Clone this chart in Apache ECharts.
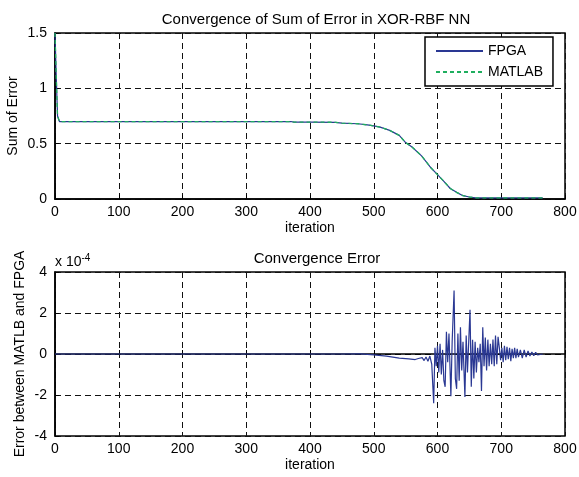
<!DOCTYPE html>
<html>
<head>
<meta charset="utf-8">
<script src="https://cdn.jsdelivr.net/npm/echarts@6/dist/echarts.min.js"></script>
<style>
html,body{margin:0;padding:0;background:#fff;}
#c{width:579px;height:477px;}
</style>
</head>
<body>
<div id="c"></div>
<script>
// ---- data ----
var xTicks = [0, 100, 200, 300, 400, 500, 600, 700, 800];
var sumIter = [0, 2, 4, 7, 50, 100, 200, 300, 370, 375, 400, 440, 450, 475, 490, 500, 510, 525, 540, 550, 560, 575, 590, 600, 610, 620, 630, 640, 650, 660, 700, 765];
var fpgaSum = [1.5, 1.1, 0.75, 0.70, 0.70, 0.70, 0.70, 0.70, 0.70, 0.695, 0.695, 0.693, 0.685, 0.68, 0.67, 0.66, 0.65, 0.62, 0.575, 0.51, 0.47, 0.39, 0.28, 0.22, 0.16, 0.095, 0.06, 0.03, 0.018, 0.01, 0.01, 0.01];
var matlabSum = [1.5, 1.1, 0.75, 0.70, 0.70, 0.70, 0.70, 0.70, 0.70, 0.695, 0.695, 0.693, 0.685, 0.68, 0.67, 0.66, 0.65, 0.62, 0.575, 0.51, 0.47, 0.39, 0.28, 0.22, 0.16, 0.095, 0.06, 0.03, 0.018, 0.01, 0.01, 0.01];
var errIter = [0, 100, 200, 300, 400, 450, 480, 500, 520, 540, 555, 565, 570, 573, 576, 579, 582, 585, 588, 591, 594, 596, 598, 600, 602, 604, 606, 608, 610, 612, 614, 616, 618, 621, 623, 626, 628, 630, 632, 634, 636, 638, 640, 643, 645, 647, 651, 653, 655, 657, 659, 661, 663, 665, 667, 669, 671, 673, 675, 677, 679, 681, 683, 685, 687, 689, 691, 693, 695, 697, 699, 701, 703, 705, 707, 709, 711, 713, 715, 717, 719, 721, 723, 725, 727, 730, 733, 736, 739, 742, 745, 748, 751, 754, 757, 760, 765];
var errVal = [0, 0, 0, 0, 0, 0, 0.01, -0.04, -0.1, -0.2, -0.24, -0.27, -0.22, -0.3, -0.18, -0.32, -0.15, -0.35, -0.1, -0.5, -2.4, 0.3, -0.6, 0.4, -0.9, 0.5, -1.0, 0.2, -1.3, -1.6, 1.08, -0.4, 1.0, -2.06, 0.6, 3.1, -1.2, -1.7, 1.0, -1.3, 1.3, -0.8, 0.6, -2.1, 0.9, -0.9, 2.16, -1.6, 0.7, -1.2, 0.6, -0.9, 0.3, -0.4, 0.5, -1.8, 1.3, -0.6, 0.8, -0.8, 0.7, -0.6, 0.5, -0.5, 0.7, -0.6, 0.9, -0.5, 0.84, 0.3, -0.3, 0.3, -0.4, 0.4, -0.3, 0.35, -0.25, 0.3, -0.35, 0.25, -0.2, 0.3, -0.2, 0.25, -0.15, 0.2, -0.2, 0.2, -0.15, 0.15, -0.1, 0.1, -0.08, 0.08, -0.05, 0.04, 0];

function pairs(xs, ys) { return xs.map(function (x, i) { return [x, ys[i]]; }); }

var FONT = 'Liberation Sans, Arial, Helvetica, sans-serif';
var BLUE = '#2a3893', GREEN = '#1fae5e';

function xAx(gi) {
  return {
    gridIndex: gi, type: 'value', min: 0, max: 800, interval: 100,
    name: 'iteration', nameLocation: 'middle', nameGap: 22, nameMoveOverlap: false,
    nameTextStyle: { fontFamily: FONT, fontSize: 14, color: '#000' },
    axisLine: { lineStyle: { color: '#000', width: 1.5 } },
    axisTick: { inside: true, length: 4, lineStyle: { color: '#000' } },
    axisLabel: { fontFamily: FONT, fontSize: 14, color: '#000', margin: 6 },
    splitLine: { show: true, lineStyle: { color: '#111', type: [6, 4], width: 1 } }
  };
}
function yAx(gi, min, max, itv, name, gap) {
  return {
    gridIndex: gi, type: 'value', min: min, max: max, interval: itv,
    name: name, nameLocation: 'middle', nameGap: gap, nameMoveOverlap: false,
    nameTextStyle: { fontFamily: FONT, fontSize: 14, color: '#000' },
    axisLine: { show: true, lineStyle: { color: '#000', width: 1.5 } },
    axisTick: { show: true, inside: true, length: 4, lineStyle: { color: '#000' } },
    axisLabel: { fontFamily: FONT, fontSize: 14, color: '#000', margin: 8 },
    splitLine: { show: true, lineStyle: { color: '#111', type: [6, 4], width: 1 } }
  };
}

var chart = echarts.init(document.getElementById('c'), null, { renderer: 'canvas' });
chart.setOption({
  backgroundColor: '#fff',
  animation: false,
  title: [
    { text: 'Convergence of Sum of Error in XOR-RBF NN', left: 311, top: 7, textAlign: 'center',
      textStyle: { fontFamily: FONT, fontSize: 15, fontWeight: 'normal', color: '#000' } },
    { text: 'Convergence Error', left: 312, top: 246, textAlign: 'center',
      textStyle: { fontFamily: FONT, fontSize: 15, fontWeight: 'normal', color: '#000' } }
  ],
  grid: [
    { left: 55, top: 33, width: 510, height: 166, show: true, borderColor: '#000', borderWidth: 1.5, backgroundColor: '#fff', outerBoundsMode: 'none', containLabel: false },
    { left: 55, top: 272, width: 510, height: 164, show: true, borderColor: '#000', borderWidth: 1.5, backgroundColor: '#fff', outerBoundsMode: 'none', containLabel: false }
  ],
  xAxis: [xAx(0), xAx(1)],
  yAxis: [yAx(0, 0, 1.5, 0.5, 'Sum of Error', 35), yAx(1, -4, 4, 2, 'Error between MATLB and FPGA', 28)],
  legend: {
    data: ['FPGA', 'MATLAB'], orient: 'vertical', left: 425, top: 37,
    padding: [7, 10, 7, 10], itemWidth: 47, itemHeight: 14, itemGap: 7,
    borderColor: '#000', borderWidth: 1.5, backgroundColor: '#fff',
    itemStyle: { opacity: 0 },
    textStyle: { fontFamily: FONT, fontSize: 14, color: '#000' }
  },
  graphic: [
    { type: 'text', left: 55, top: 253,
      style: { text: 'x 10{s|-4}', rich: { s: { fontSize: 10, verticalAlign: 'top', padding: [0, 0, 8, 0], fontFamily: FONT, fill: '#000' } },
        font: '14px ' + FONT, fill: '#000' } }
  ],
  series: [
    { name: 'FPGA', type: 'line', xAxisIndex: 0, yAxisIndex: 0, showSymbol: false, symbol: 'none',
      data: pairs(sumIter, fpgaSum), lineStyle: { color: BLUE, width: 1.2 }, itemStyle: { color: BLUE }, z: 3 },
    { name: 'MATLAB', type: 'line', xAxisIndex: 0, yAxisIndex: 0, showSymbol: false, symbol: 'none',
      data: pairs(sumIter, matlabSum), lineStyle: { color: GREEN, width: 1.3, type: [4, 3] }, itemStyle: { color: GREEN }, z: 4 },
    { name: 'Error', type: 'line', xAxisIndex: 1, yAxisIndex: 1, showSymbol: false, symbol: 'none',
      data: pairs(errIter, errVal), lineStyle: { color: BLUE, width: 1.2 }, itemStyle: { color: BLUE }, z: 3 }
  ]
});
</script>
</body>
</html>
